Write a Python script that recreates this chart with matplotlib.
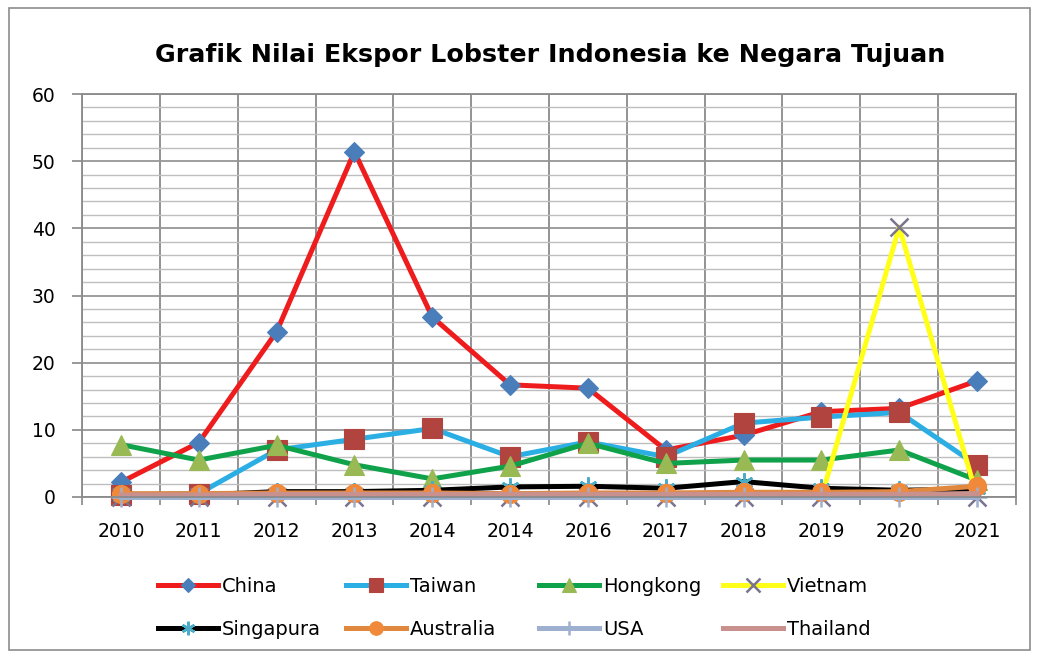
import numpy as np
import matplotlib
matplotlib.use('Agg')
import matplotlib.pyplot as plt
from matplotlib.patches import Rectangle

years = ['2010', '2011', '2012', '2013', '2014', '2014', '2016', '2017', '2018', '2019', '2020', '2021']

china = [2.2, 8.1, 24.6, 51.4, 26.8, 16.7, 16.2, 7.0, 9.2, 12.7, 13.2, 17.3]
taiwan = [0.3, 0.5, 7.0, 8.6, 10.2, 6.0, 8.2, 6.0, 11.0, 11.9, 12.6, 4.7]
hongkong = [7.8, 5.5, 7.7, 4.8, 2.7, 4.6, 8.0, 5.0, 5.5, 5.5, 7.0, 2.5]
vietnam = [0, 0, 0, 0, 0, 0, 0, 0, 0, 0, 40.2, 0]
singapura = [0.2, 0.3, 0.8, 0.8, 1.0, 1.5, 1.6, 1.3, 2.3, 1.3, 1.0, 1.2]
australia = [0.5, 0.5, 0.6, 0.6, 0.6, 0.5, 0.6, 0.6, 0.7, 0.7, 0.8, 1.6]
usa = [0, 0, 0, 0, 0, 0, 0, 0, 0, 0, 0, 0]
thailand = [0.3, 0.3, 0.4, 0.4, 0.4, 0.4, 0.4, 0.4, 0.4, 0.4, 0.4, 0.5]

# name, values, line colour, marker, marker colour, marker size
series = [
    ('China', china, '#EE1C1C', 'D', '#4A7EBB', 10),
    ('Taiwan', taiwan, '#2BAEE3', 's', '#B2443F', 14),
    ('Hongkong', hongkong, '#0FA24A', '^', '#98B954', 14),
    ('Vietnam', vietnam, '#FFFF1A', 'x', '#7A7490', 13),
    ('Singapura', singapura, '#000000', (6, 2, 0), '#4BACC6', 13),
    ('Australia', australia, '#E0883E', 'o', '#F08A3A', 13),
    ('USA', usa, '#9DB0CF', '+', '#9DB0CF', 14),
    ('Thailand', thailand, '#C9918D', 'None', '#C9918D', 0),
]

plt.rcParams['font.family'] = 'DejaVu Sans'

fig = plt.figure(figsize=(10.38, 6.57), dpi=100)
ax = fig.add_axes([82 / 1038, 1 - 497 / 657, 934 / 1038, 403 / 657])

x = np.arange(len(years))
handles = []
for name, vals, col, mk, mcol, ms in series:
    mew = 1.8 if mk in ('x', '+', (6, 2, 0)) else 0.8
    h, = ax.plot(x, vals, color=col, lw=3.6, marker=mk, markersize=ms,
                 markerfacecolor=mcol, markeredgecolor=mcol, markeredgewidth=mew,
                 label=name, clip_on=False)
    handles.append(h)

ax.set_xlim(-0.5, len(years) - 0.5)
ax.set_ylim(0, 60)
ax.set_xticks(x)
ax.set_xticklabels(years, fontsize=13.5)
ax.set_xticks(np.arange(-0.5, len(years)), minor=True)
ax.set_yticks(np.arange(0, 61, 10))
ax.set_yticks(np.arange(0, 61, 2), minor=True)
ax.tick_params(axis='x', which='major', length=0, pad=18)
ax.tick_params(axis='x', which='minor', length=6, color='#888888', width=1.2)
ax.tick_params(axis='y', which='major', length=7, color='#888888', width=1.2,
               labelsize=13.5, pad=12)
ax.tick_params(axis='y', which='minor', length=0)

ax.grid(axis='x', which='minor', color='#8A8A8A', lw=1.3)
ax.grid(axis='y', which='major', color='#969696', lw=1.3)
ax.grid(axis='y', which='minor', color='#BEBEBE', lw=1.0)
ax.set_axisbelow(True)
for s in ax.spines.values():
    s.set_color('#8A8A8A')
    s.set_linewidth(1.3)

fig.text(550 / 1038, 1 - 55 / 657, 'Grafik Nilai Ekspor Lobster Indonesia ke Negara Tujuan',
         ha='center', va='center', fontsize=18.3, fontweight='bold')

# one small legend per column so each column can sit where Excel put it
col_left = [158, 346, 539, 723]
for j in range(4):
    pair = [j, j + 4]
    fig.legend([handles[i] for i in pair], [series[i][0] for i in pair],
               loc='center left', bbox_to_anchor=(col_left[j] / 1038, 1 - 608 / 657),
               frameon=False, fontsize=14, handlelength=3.1, handletextpad=0.2,
               labelspacing=1.25, borderpad=0, borderaxespad=0, markerscale=0.75)

fig.patches.append(Rectangle((9 / 1038, 1 - 650 / 657), 1021 / 1038, 642 / 657,
                             transform=fig.transFigure, fill=False,
                             edgecolor='#8C8C8C', lw=1.2))

fig.savefig('out.png', dpi=100)
